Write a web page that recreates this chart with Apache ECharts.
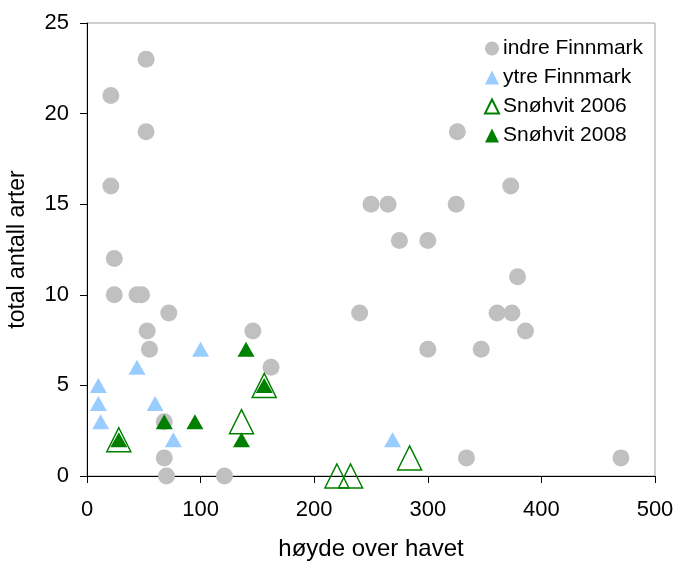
<!DOCTYPE html>
<html>
<head>
<meta charset="utf-8">
<script src="https://cdn.jsdelivr.net/npm/echarts@6/dist/echarts.min.js"></script>
<style>html,body{margin:0;padding:0;background:#fff}#c{width:676px;height:562px}</style>
</head>
<body>
<div id="c"></div>
<script>
const xTicks = [0, 100, 200, 300, 400, 500];
const yTicks = [0, 5, 10, 15, 20, 25];
const seriesNames = ['indre Finnmark', 'ytre Finnmark', 'Snøhvit 2006', 'Snøhvit 2008'];
const indreFinnmark = [
  [52, 23], [21, 21], [52, 19], [21, 16], [24, 12], [24, 10], [44, 10], [48, 10],
  [72, 9], [53, 8], [55, 7], [146, 8], [162, 6], [68, 3], [68, 1], [70, 0], [121, 0],
  [326, 19], [373, 16], [250, 15], [265, 15], [325, 15], [275, 13], [300, 13],
  [379, 11], [240, 9], [361, 9], [374, 9], [386, 8], [300, 7], [347, 7], [334, 1], [470, 1]
];
const ytreFinnmark = [
  [10, 5], [10, 4], [12, 3], [44, 6], [60, 4], [76, 2], [100, 7], [269, 2]
];
const snohvit2006 = [
  [28, 2], [156, 5], [136, 3], [220, 0], [232, 0], [284, 1]
];
const snohvit2008 = [
  [28, 2], [68, 3], [95, 3], [140, 7], [136, 2], [156, 5]
];

const font = 'Liberation Sans, Arial, sans-serif';
const chart = echarts.init(document.getElementById('c'), null, {renderer: 'canvas'});
const axisCommon = {
  axisLine: {show: true, onZero: false, lineStyle: {color: '#000', width: 1}},
  axisTick: {show: true, inside: false, length: 7, lineStyle: {color: '#000'}},
  splitLine: {show: false},
  nameLocation: 'middle',
  nameTextStyle: {fontFamily: font, fontSize: 23, color: '#000'},
  axisLabel: {fontFamily: font, fontSize: 22, color: '#000'}
};
chart.setOption({
  animation: false,
  backgroundColor: '#fff',
  grid: {left: 87, right: 21, top: 23, bottom: 86, containLabel: false, outerBoundsMode: 'none',
         show: true, borderColor: '#a0a0a0', borderWidth: 1, backgroundColor: 'transparent'},
  legend: {
    orient: 'vertical', left: 479, top: 33, itemGap: 8, itemWidth: 14, itemHeight: 14,
    textStyle: {fontFamily: font, fontSize: 21, color: '#000', padding: [0, 0, 0, -1]},
    data: seriesNames
  },
  xAxis: Object.assign({}, axisCommon, {
    type: 'value', min: xTicks[0], max: xTicks[xTicks.length - 1], interval: 100,
    name: 'høyde over havet', nameGap: 61,
    nameTextStyle: {fontFamily: font, fontSize: 24, color: '#000'},
    axisLabel: Object.assign({}, axisCommon.axisLabel, {margin: 23})
  }),
  yAxis: Object.assign({}, axisCommon, {
    type: 'value', min: yTicks[0], max: yTicks[yTicks.length - 1], interval: 5,
    name: 'total antall arter', nameGap: 58,
    axisLabel: Object.assign({}, axisCommon.axisLabel, {margin: 18})
  }),
  series: [
    {name: seriesNames[0], type: 'scatter', data: indreFinnmark, symbol: 'circle', symbolSize: 17, clip: false,
     itemStyle: {color: '#c0c0c0', opacity: 1}},
    {name: seriesNames[1], type: 'scatter', data: ytreFinnmark, symbol: 'triangle', symbolSize: [17, 15], clip: false,
     itemStyle: {color: '#99ccff', opacity: 1}},
    {name: seriesNames[2], type: 'scatter', data: snohvit2006, symbol: 'triangle', symbolSize: [24, 24], clip: false,
     itemStyle: {color: 'rgba(255,255,255,0)', borderColor: '#008000', borderWidth: 1.5, opacity: 1}},
    {name: seriesNames[3], type: 'scatter', data: snohvit2008, symbol: 'triangle', symbolSize: [17, 15], clip: false,
     itemStyle: {color: '#008000', opacity: 1}}
  ]
});
</script>
</body>
</html>
